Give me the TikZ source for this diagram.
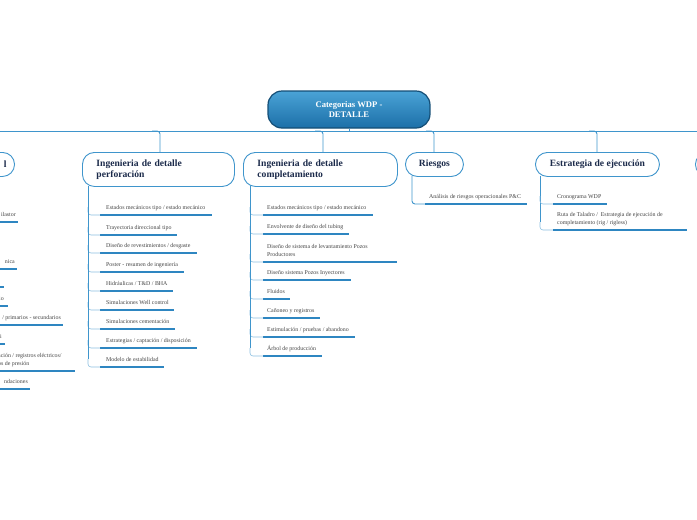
\documentclass[tikz,border=0pt]{standalone}
\usepackage{fontspec}
\setmainfont{Liberation Serif}
\begin{document}
\begin{tikzpicture}[x=1pt,y=-1pt,
  ln/.style={draw=lnc,line width=0.9pt},
  ul/.style={draw=ulc,line width=1.4pt},
  cat/.style={draw=lnc,line width=0.9pt,fill=white,rounded corners=12pt,minimum height=24pt,font=\bfseries\fontsize{9.6}{11}\selectfont,text=titc,align=left,inner xsep=14pt,anchor=north west},
  it/.style={font=\fontsize{5.9}{7}\selectfont,text=itc,anchor=base west,inner sep=0pt,align=left}]
\definecolor{lnc}{HTML}{3F95CC}
\definecolor{ulc}{HTML}{2E86C1}
\definecolor{titc}{HTML}{1B2A4A}
\definecolor{itc}{HTML}{444444}
\definecolor{rootA}{HTML}{4AA3D6}
\definecolor{rootB}{HTML}{1C6FA8}
\useasboundingbox (0,0) rectangle (697,520);
\clip (0,0) rectangle (697,520);
% bus
\draw[ln] (-5,131) -- (702,131);
\foreach \x in {160,323,434,597}{\draw[ln,rounded corners=3pt] (\x-8,131) -- (\x,131) -- (\x,152);}
% root
\node[draw=rootB!70!black,line width=1.2pt,rounded corners=14pt,top color=rootA,bottom color=rootB,minimum width=162pt,minimum height=37pt,text=white,font=\bfseries\fontsize{8.6}{10.5}\selectfont,align=center] (root) at (349,109.5) {Categorias WDP -\\DETALLE};
\draw[ln] (root.south) -- (349,131);
% categories
\node[cat,minimum height=34pt,text width=124pt] (perf) at (82,152) {Ingenieria de detalle\\perforación};
\node[cat,minimum height=34pt,text width=126pt] (comp) at (243,152) {Ingenieria de detalle\\completamiento};
\node[cat,inner xsep=0pt,minimum width=58pt,align=center] (ries) at (405,152) {Riesgos};
\node[cat,inner xsep=0pt,minimum width=124pt,align=center] (estr) at (535,152) {Estrategia de ejecución};
\node[cat,inner xsep=0pt,minimum width=60pt,text width=60pt,anchor=north east] (left) at (15,152) {\hfill l\hspace*{8pt}};
\node[cat,inner xsep=0pt,minimum width=60pt,text width=60pt] (right) at (695,152) {\hspace*{10pt}E};
% perforacion items
\foreach \t/\y/\e [count=\i] in {{Estados mecánicos tipo / estado mecánico}/215/212,{Trayectoria direccional tipo}/235/177,{Diseño de revestimientos / desgaste}/253/197,{Poster - resumen de ingeniería}/272/184,{Hidráulicas / T\&D / BHA}/291/173,{Simulaciones Well control}/310/174,{Simulaciones cementación}/329/175,{Estrategias / captación / disposición}/348/197,{Modelo de estabilidad}/367/164}{
  \draw[ul] (100,\y) -- (\e,\y);
  \node[it] (p\i) at (106,\y-6) {\t};
  \draw[draw=lnc!60,line width=0.6pt,rounded corners=3pt] (88,\y-8) -- (88,\y) -- (100,\y);
}
\draw[ln] (88,186) -- (88,359);
% completamiento items
\foreach \y/\e in {215/373,234/349,262/397,280/351,299/290,318/320,337/355,356/322}{
  \draw[ul] (263,\y) -- (\e,\y);
  \draw[draw=lnc!60,line width=0.6pt,rounded corners=3pt] (250,\y-8) -- (250,\y) -- (263,\y);
}
\draw[ln] (250,186) -- (250,348);
\node[it] (c1) at (267,209) {Estados mecánicos tipo / estado mecánico};
\node[it] (c2) at (267,228) {Envolvente de diseño del tubing};
\node[it] (c3) at (267,248) {Diseño de sistema de levantamiento Pozos};
\node[it] (c3b) at (267,256) {Productores};
\node[it] (c4) at (267,274) {Diseño sistema Pozos Inyectores};
\node[it] (c5) at (267,293) {Fluidos};
\node[it] (c6) at (267,312) {Cañoneo y registros};
\node[it] (c7) at (267,331) {Estimulación / pruebas / abandono};
\node[it] (c8) at (267,350) {Árbol de producción};
% riesgos
\draw[ln,rounded corners=3pt] (412,176) -- (412,204) -- (425,204);
\draw[ul] (425,204) -- (527,204);
\node[it] (r1) at (429,198) {Análisis de riesgos operacionales P\&C};
% estrategia
\draw[ln] (540,176) -- (540,222);
\draw[draw=lnc!60,line width=0.6pt,rounded corners=3pt] (540,196) -- (540,204) -- (553,204);
\draw[draw=lnc!60,line width=0.6pt,rounded corners=3pt] (540,222) -- (540,230) -- (553,230);
\draw[ul] (553,204) -- (607,204);
\draw[ul] (553,230) -- (687,230);
\node[it] (e1) at (557,198) {Cronograma WDP};
\node[it] (e2) at (557,216) {Ruta de Taladro /\ \ Estrategia de ejecución de};
\node[it] (e2b) at (557,224) {completamiento (rig / rigless)};
% left partial items
\foreach \y/\e in {222/18,269/17,287/4,306/8,325/63,344/5,371/75,389/30}{
  \draw[ul] (-5,\y) -- (\e,\y);
}
\node[it,anchor=base east] (l1) at (16,216) {ilastor};
\node[it,anchor=base east] (l2) at (15,263) {nica};
\node[it,anchor=base east] (l4) at (4,300) {io};
\node[it,anchor=base east] (l5) at (61,319) {/ primarios - secundarios};
\node[it,anchor=base east] (l6) at (2,338) {i};
\node[it,anchor=base west] (l7) at (-2,357) {ación / registros eléctricos/};
\node[it,anchor=base west] (l7b) at (-2,365) {os de presión};
\node[it,anchor=base east] (l8) at (28,383) {ndaciones};
\end{tikzpicture}
\end{document}
